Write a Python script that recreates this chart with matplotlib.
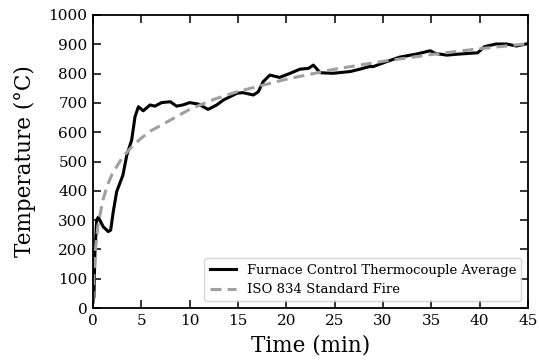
import matplotlib
matplotlib.use("Agg")
import matplotlib.pyplot as plt

# Furnace control thermocouple average
furnace_time = [0.0, 0.1, 0.2, 0.38, 0.55, 1.07, 1.58, 1.83, 2.1, 2.45, 3.1, 3.5, 4.0,
                4.35, 4.7, 5.2, 5.9, 6.4, 7.1, 8.0, 8.65, 9.3, 10.0, 10.9, 11.9,
                12.1, 12.8, 13.5, 14.9, 15.5, 16.6, 17.1, 17.6, 18.3, 19.3, 20.4,
                21.4, 22.3, 22.8, 23.1, 23.5, 24.8, 26.6, 27.6, 28.6, 29.0, 30.4,
                31.7, 33.5, 34.9, 35.4, 36.6, 37.6, 39.8, 40.5, 41.7, 42.8, 43.8,
                44.8]
furnace_temp = [20, 39, 187, 300, 310, 277, 261, 266, 329, 397, 454, 522, 573,
                653, 687, 673, 693, 689, 701, 704, 689, 693, 701, 696, 678,
                681, 693, 710, 733, 735, 727, 738, 772, 795, 787, 801,
                815, 818, 829, 818, 803, 801, 807, 815, 824, 824, 841,
                856, 867, 878, 869, 863, 866, 871, 892, 901, 901, 894,
                901]

# ISO 834 standard fire curve
iso_time = [0.0, 0.1, 0.25, 0.5, 1, 1.5, 2, 3, 4, 5, 6, 7.5, 10, 12.5, 15, 20,
            25, 30, 35, 40, 45]
iso_temp = [20, 115, 200, 278, 365, 420, 458, 512, 550, 580, 605, 632, 678, 712,
            739, 781, 815, 842, 865, 885, 902]

plt.rcParams['font.family'] = 'DejaVu Serif'
plt.rcParams['mathtext.fontset'] = 'dejavuserif'

fig = plt.figure(figsize=(5.39, 3.62), dpi=100)
ax = fig.add_axes([0.1725, 0.149, 0.807, 0.8096])

ax.plot(furnace_time, furnace_temp, color='black', linewidth=2.2,
        label='Furnace Control Thermocouple Average')
ax.plot(iso_time, iso_temp, color='#a0a0a0', linewidth=2.2, linestyle=(0, (3.6, 2.0)),
        label='ISO 834 Standard Fire')

ax.set_xlim(0, 45)
ax.set_ylim(0, 1000)
ax.set_xticks(range(0, 46, 5))
ax.set_yticks(range(0, 1001, 100))
ax.tick_params(direction='in', top=True, right=True, length=6, width=1.1,
               labelsize=11, pad=4)
for s in ax.spines.values():
    s.set_linewidth(1.3)

ax.set_xlabel('Time (min)', fontsize=15.5, labelpad=5)
ax.set_ylabel('Temperature (\u00b0C)', fontsize=15.5, labelpad=9)

ax.legend(loc='lower right', fontsize=9.5, handlelength=2.0, borderaxespad=0.5)

fig.savefig('out.png', dpi=100)
